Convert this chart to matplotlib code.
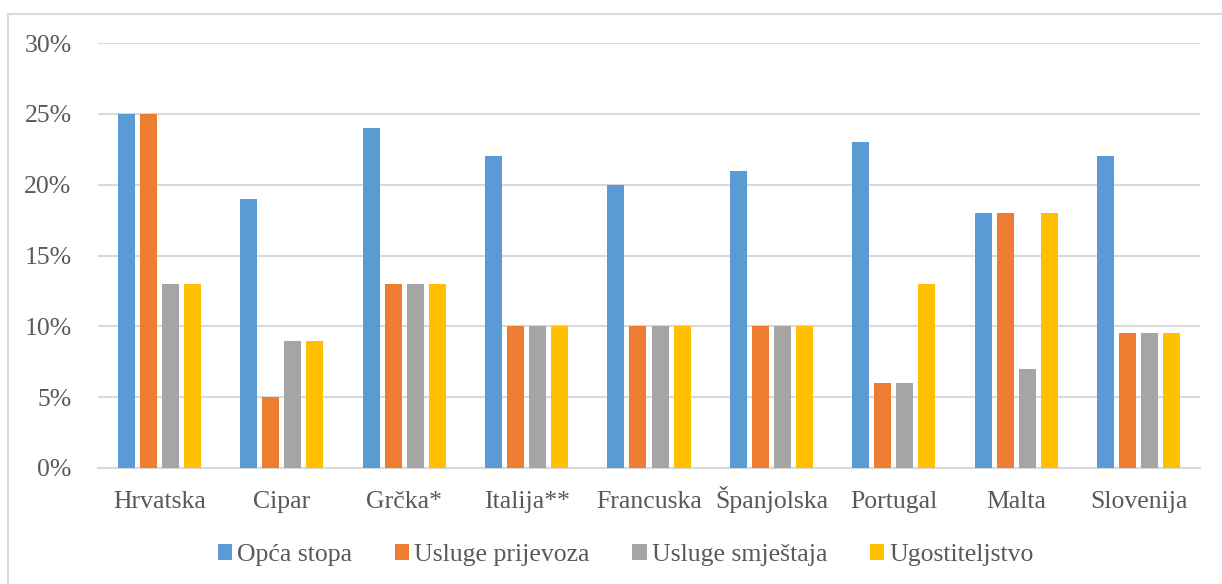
import matplotlib.pyplot as plt
import numpy as np
from matplotlib.patches import Rectangle
from matplotlib.ticker import PercentFormatter

countries = ["Hrvatska", "Cipar", "Grčka*", "Italija**", "Francuska",
             "Španjolska", "Portugal", "Malta", "Slovenija"]
series_names = ["Opća stopa", "Usluge prijevoza", "Usluge smještaja", "Ugostiteljstvo"]
opca = [25, 19, 24, 22, 20, 21, 23, 18, 22]
prijevoz = [25, 5, 13, 10, 10, 10, 6, 18, 9.5]
smjestaj = [13, 9, 13, 10, 10, 10, 6, 7, 9.5]
ugost = [13, 9, 13, 10, 10, 10, 13, 18, 9.5]
colors = ["#5B9BD5", "#ED7D31", "#A5A5A5", "#FFC000"]

plt.rcParams["font.family"] = ["Liberation Serif", "DejaVu Serif"]
text_col = "#595959"
grid_col = "#D9D9D9"
fs = 18.5

fig = plt.figure(figsize=(12.22, 5.84), dpi=100)
fig.patches.append(Rectangle((8 / 1222, -0.1), 1.2, (584 - 14) / 584 + 0.1,
                             transform=fig.transFigure, fill=False,
                             edgecolor=grid_col, linewidth=1.5))
ax = fig.add_axes([98 / 1222, 116 / 584, 1102 / 1222, 425 / 584])

x = np.arange(len(countries))
pitch = 0.18
width = 0.139
for i, (vals, name) in enumerate(zip([opca, prijevoz, smjestaj, ugost], series_names)):
    ax.bar(x + (i - 1.5) * pitch, np.array(vals) / 100, width=width,
           color=colors[i], label=name, zorder=3)

ax.set_xlim(-0.5, len(countries) - 0.5)
ax.set_ylim(0, 0.30)
ax.set_yticks(np.arange(0, 0.31, 0.05))
ax.yaxis.set_major_formatter(PercentFormatter(1.0, decimals=0))
ax.set_xticks(x)
ax.set_xticklabels(countries, va="baseline")
ax.grid(axis="y", color=grid_col, linewidth=1.5, zorder=0)
for s in ["top", "right", "left"]:
    ax.spines[s].set_visible(False)
ax.spines["bottom"].set_color(grid_col)
ax.spines["bottom"].set_linewidth(1.5)
ax.tick_params(axis="y", length=0, pad=19, labelsize=fs, labelcolor=text_col)
ax.tick_params(axis="x", length=0, pad=29, labelsize=fs, labelcolor=text_col)

fig.legend(loc="center", bbox_to_anchor=(0.512, 29 / 584), ncol=4, frameon=False,
           fontsize=fs, labelcolor=text_col, handlelength=0.56, handleheight=0.56,
           handletextpad=0.2, columnspacing=1.65)

fig.savefig("out.png", dpi=100)
